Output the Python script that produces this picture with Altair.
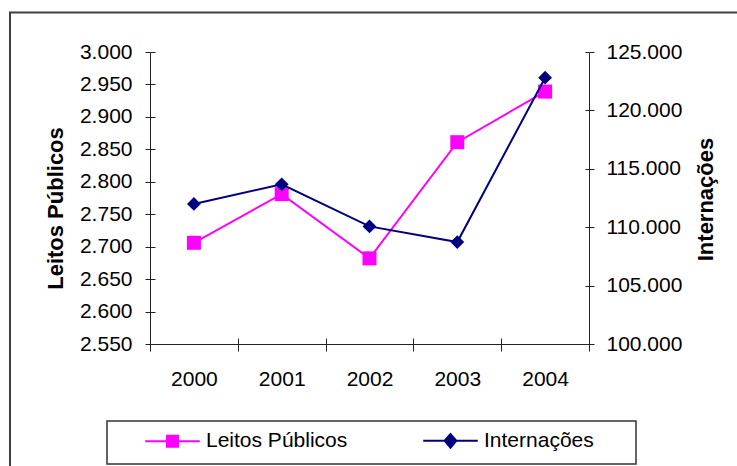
import altair as alt
import pandas as pd

# Leitos públicos (left axis) and internações (right axis), 2000-2004
anos = ["2000", "2001", "2002", "2003", "2004"]
leitos = [2706, 2781, 2682, 2861, 2939]
internacoes = [111990, 113670, 110070, 108730, 122800]

series = ["Leitos Públicos", "Internações"]
cores = ["#FF00FF", "#000080"]

leitos_ticks = [2550, 2600, 2650, 2700, 2750, 2800, 2850, 2900, 2950, 3000]
intern_ticks = [100000, 105000, 110000, 115000, 120000, 125000]
leitos_domain = [2550, 3000]
intern_domain = [100000, 125000]

FONT = "Liberation Sans"
LABEL_SIZE = 21
AXIS_COLOR = "#222222"
# thousands separator as a dot: 2.550, 125.000
FMT = "replace(format(datum.value, ',d'), ',', '.')"

# legend swatches: a short line with the series marker in the middle
legend_shapes = [
    "M-4.2,0H4.2M-0.84,-0.84H0.84V0.84H-0.84Z",
    "M-4.2,0H4.2M0,-1.04L0.9,0L0,1.04L-0.9,0Z",
]

df_l = pd.DataFrame({"ano": anos, "valor": leitos})
df_i = pd.DataFrame({"ano": anos, "valor": internacoes})
df_s = pd.DataFrame({"serie": series})
one_row = pd.DataFrame({"k": [0]})

band = alt.Scale(type="band", paddingInner=0, paddingOuter=0)

x_axis = alt.Axis(
    orient="bottom", tickBand="extent", labelAngle=0, labelFont=FONT,
    labelFontSize=LABEL_SIZE, labelColor="black", labelPadding=17, tickSize=7,
    tickColor=AXIS_COLOR, domainColor=AXIS_COLOR, grid=False, title=None,
)
x_enc = alt.X("ano:O", title=None, sort=anos, scale=band, bandPosition=0.5, axis=x_axis)
x_plain = alt.X("ano:O", title=None, sort=anos, scale=band, bandPosition=0.5, axis=None)


def left_axis(**kw):
    return alt.Axis(orient="left", values=leitos_ticks, grid=False,
                    tickColor=AXIS_COLOR, domainColor=AXIS_COLOR, **kw)


def right_axis(**kw):
    return alt.Axis(orient="right", values=intern_ticks, grid=False,
                    tickColor=AXIS_COLOR, domainColor=AXIS_COLOR, **kw)


y_left = alt.Y(
    "valor:Q",
    scale=alt.Scale(domain=leitos_domain, nice=False, zero=False),
    axis=left_axis(
        labelExpr=FMT, labelFont=FONT, labelFontSize=LABEL_SIZE, labelColor="black",
        tickSize=5, labelPadding=13,
        title="Leitos Públicos", titleFont=FONT, titleFontSize=22,
        titleFontWeight="bold", titleColor="black", titleAngle=270,
        titleAlign="center", titleBaseline="alphabetic", titleX=-87.5, titleY=156,
    ),
)

y_right = alt.Y(
    "valor:Q",
    scale=alt.Scale(domain=intern_domain, nice=False, zero=False),
    axis=right_axis(
        labelExpr=FMT, labelFont=FONT, labelFontSize=LABEL_SIZE, labelColor="black",
        tickSize=5, labelPadding=12,
        title="Internações", titleFont=FONT, titleFontSize=22,
        titleFontWeight="bold", titleColor="black", titleAngle=270,
        titleAlign="center", titleBaseline="alphabetic", titleX=123, titleY=147,
    ),
)

# outer chart border and legend box
frame = alt.Chart(one_row).mark_rect(
    filled=False, stroke="#404040", strokeWidth=2
).encode(
    x=alt.value(-140), x2=alt.value(620), y=alt.value(-39.5), y2=alt.value(440)
)
legend_box = alt.Chart(one_row).mark_rect(
    filled=False, stroke="#333333", strokeWidth=1.5
).encode(
    x=alt.value(-43), x2=alt.value(486), y=alt.value(369), y2=alt.value(412)
)

legend = alt.Legend(
    title=None, orient="none", legendX=-8, legendY=378, direction="horizontal",
    columns=2, columnPadding=71, padding=0, labelFont=FONT, labelFontSize=LABEL_SIZE,
    labelColor="black", symbolSize=169, symbolStrokeWidth=2, symbolOffset=20,
    labelOffset=23, symbolOpacity=1,
)
legend_layer = alt.Chart(df_s).mark_point(filled=True, opacity=0).encode(
    fill=alt.Fill("serie:N", sort=series,
                  scale=alt.Scale(domain=series, range=cores), legend=legend),
    stroke=alt.Stroke("serie:N", sort=series,
                      scale=alt.Scale(domain=series, range=cores), legend=legend),
    shape=alt.Shape("serie:N", sort=series,
                    scale=alt.Scale(domain=series, range=legend_shapes), legend=legend),
)

line_l = alt.Chart(df_l).mark_line(color=cores[0], strokeWidth=2).encode(x=x_enc, y=y_left)
pts_l = alt.Chart(df_l).mark_point(
    shape="square", filled=True, size=196, color=cores[0], opacity=1
).encode(x=x_enc, y=y_left)

line_i = alt.Chart(df_i).mark_line(color=cores[1], strokeWidth=2).encode(x=x_plain, y=y_right)
pts_i = alt.Chart(df_i).mark_point(
    shape="diamond", filled=True, size=190, color=cores[1], opacity=1
).encode(x=x_plain, y=y_right)

# inner halves of the cross-style tick marks on all three axes
inner_l = alt.Chart(df_l).mark_point(opacity=0).encode(
    x=alt.X("ano:O", title=None, sort=anos, scale=band, bandPosition=0.5,
            axis=alt.Axis(orient="bottom", tickBand="extent", labels=False,
                          domain=False, grid=False, tickSize=6, offset=-6,
                          tickColor=AXIS_COLOR, title=None)),
    y=alt.Y("valor:Q", scale=alt.Scale(domain=leitos_domain, nice=False, zero=False),
            axis=left_axis(labels=False, domain=False, tickSize=5, offset=-5, title=None)),
)
inner_r = alt.Chart(df_i).mark_point(opacity=0).encode(
    x=x_plain,
    y=alt.Y("valor:Q", scale=alt.Scale(domain=intern_domain, nice=False, zero=False),
            axis=right_axis(labels=False, domain=False, tickSize=4, offset=-4, title=None)),
)

left = alt.layer(line_l, pts_l, legend_layer)
right = alt.layer(line_i, pts_i)

chart = (
    alt.layer(frame, legend_box, inner_l, inner_r, left, right)
    .resolve_scale(y="independent")
    .resolve_axis(x="independent", y="independent")
    .properties(
        width=439, height=292,
        autosize=alt.AutoSizeParams(type="none"),
        padding={"left": 150, "top": 52, "right": 148, "bottom": 122},
        background="white",
    )
    .configure_view(stroke=None)
)

chart.save("out.html", embed_options={"renderer": "svg", "actions": False})
